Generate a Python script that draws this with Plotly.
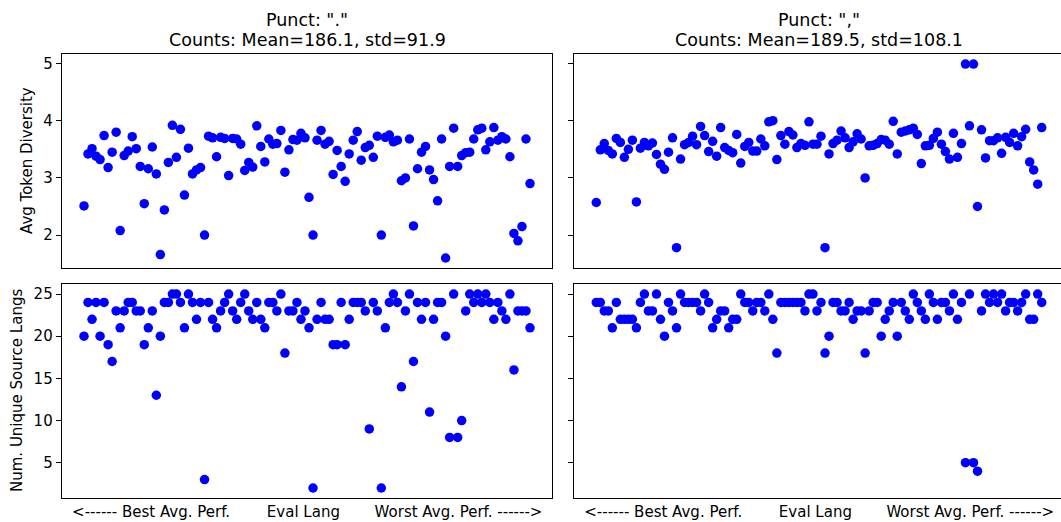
import plotly.graph_objects as go

# per eval-language values, ordered from best to worst average performance
div_period = [2.51, 3.42, 3.51, 3.38, 3.32, 3.74, 3.18, 3.45, 3.80, 2.08,
              3.39, 3.47, 3.72, 3.51, 3.20, 2.55, 3.16, 3.54, 3.07, 1.66,
              2.44, 3.27, 3.92, 3.36, 3.85, 2.70, 3.52, 3.07, 3.14, 3.18,
              2.00, 3.73, 3.70, 3.37, 3.71, 3.69, 3.04, 3.69, 3.68, 3.59,
              3.13, 3.27, 3.19, 3.91, 3.55, 3.28, 3.68, 3.59, 3.60, 3.83,
              3.10, 3.49, 3.67, 3.66, 3.78, 3.70, 2.66, 2.00, 3.66, 3.83,
              3.59, 3.64, 3.06, 3.48, 3.20, 2.94, 3.42, 3.66, 3.81, 3.31,
              3.53, 3.57, 3.36, 3.73, 2.00, 3.71, 3.75, 3.63, 3.66, 2.95,
              3.00, 3.68, 2.16, 3.16, 3.45, 3.55, 3.14, 2.97, 2.60, 3.68,
              1.60, 3.20, 3.87, 3.20, 3.39, 3.44, 3.45, 3.68, 3.84, 3.87,
              3.49, 3.63, 3.88, 3.66, 3.72, 3.68, 3.37, 2.03, 1.90, 2.15,
              3.68, 2.90]

div_comma = [2.57, 3.49, 3.60, 3.48, 3.42, 3.69, 3.62, 3.36, 3.50, 3.66,
             2.58, 3.52, 3.62, 3.56, 3.61, 3.41, 3.24, 3.15, 3.45, 3.70,
             1.78, 3.33, 3.58, 3.62, 3.73, 3.58, 3.90, 3.74, 3.46, 3.64,
             3.38, 3.88, 3.53, 3.48, 3.44, 3.76, 3.26, 3.55, 3.62, 3.47,
             3.47, 3.68, 3.56, 3.98, 4.00, 3.32, 3.74, 3.59, 3.81, 3.75,
             3.53, 3.60, 3.57, 3.98, 3.59, 3.59, 3.73, 1.78, 3.42, 3.60,
             3.66, 3.82, 3.70, 3.53, 3.63, 3.77, 3.68, 3.00, 3.56, 3.57,
             3.60, 3.67, 3.66, 3.59, 3.99, 3.42, 3.80, 3.82, 3.84, 3.87,
             3.76, 3.25, 3.56, 3.57, 3.69, 3.80, 3.59, 3.46, 3.33, 3.78,
             3.36, 3.60, 4.99, 3.91, 4.99, 2.50, 3.84, 3.35, 3.65, 3.65,
             3.70, 3.43, 3.71, 3.62, 3.78, 3.56, 3.72, 3.85, 3.28, 3.14,
             2.89, 3.88]

src_period = [20, 24, 22, 24, 20, 24, 19, 17, 23, 21,
              23, 24, 24, 23, 23, 19, 21, 23, 13, 20,
              24, 24, 25, 25, 24, 21, 25, 24, 22, 24,
              3, 24, 22, 21, 23, 24, 25, 23, 22, 24,
              25, 23, 22, 24, 22, 21, 24, 24, 23, 25,
              18, 23, 23, 24, 22, 23, 21, 2, 22, 24,
              22, 22, 19, 19, 24, 19, 22, 24, 24, 24,
              23, 9, 24, 23, 2, 21, 24, 25, 24, 14,
              23, 25, 17, 24, 22, 24, 11, 22, 24, 24,
              20, 8, 25, 8, 10, 23, 25, 24, 25, 24,
              25, 24, 22, 24, 23, 22, 25, 16, 23, 23,
              23, 21]

src_comma = [24, 24, 23, 23, 21, 24, 22, 22, 22, 22,
             21, 24, 25, 23, 23, 25, 22, 20, 24, 23,
             21, 25, 24, 24, 24, 24, 23, 25, 24, 21,
             22, 23, 23, 21, 22, 22, 25, 24, 24, 23,
             24, 24, 23, 25, 22, 18, 24, 24, 24, 24,
             24, 24, 23, 25, 25, 23, 24, 18, 20, 24,
             24, 23, 23, 24, 22, 23, 23, 18, 23, 24,
             24, 20, 22, 23, 24, 20, 24, 23, 22, 25,
             24, 23, 22, 25, 24, 22, 24, 24, 23, 25,
             22, 24, 5, 25, 5, 4, 23, 25, 24, 25,
             24, 25, 23, 24, 24, 23, 24, 25, 22, 22,
             25, 24]

titles = ['Punct: "."<br>Counts: Mean=186.1, std=91.9',
          'Punct: ","<br>Counts: Mean=189.5, std=108.1']
x_tick_text = ["<------ Best Avg. Perf.", "Eval Lang", "Worst Avg. Perf. ------>"]
x_tick_pos = [16.7, 54.6, 93.2]

W, H = 1061, 522
FONT = "DejaVu Sans"


def px(x):
    return x / W


def py(y):
    return (H - y) / H


n = len(div_period)
xs = list(range(n))
step = 4.013  # pixels per language
pad = 0.05 * (n - 1)

fig = go.Figure()
panels = [(div_period, "x", "y"), (div_comma, "x2", "y2"),
          (src_period, "x3", "y3"), (src_comma, "x4", "y4")]
for vals, xa, ya in panels:
    fig.add_trace(go.Scatter(x=xs, y=vals, mode="markers", xaxis=xa, yaxis=ya,
                             marker=dict(color="blue", size=9.5, line=dict(width=0)),
                             showlegend=False, hoverinfo="x+y"))

left_dom = [px(61.7), px(552.3)]
right_dom = [px(574), 1.0]
top_dom = [py(268), py(54)]
bot_dom = [py(498.3), py(284)]

left_range = [-pad, n - 1 + pad]
right_range = [-pad, -pad + (W - 574) / step]

axis_common = dict(showline=True, linecolor="black", linewidth=1,
                   showgrid=False, zeroline=False,
                   tickfont=dict(family=FONT, size=15, color="black"))

xa_top = dict(axis_common, mirror=True, ticks="", showticklabels=False)
xa_bot = dict(axis_common, mirror=True, ticks="", tickmode="array",
              tickvals=x_tick_pos, ticktext=x_tick_text)

ya_top = dict(axis_common, range=[1.425, 5.166], tickvals=[2, 3, 4, 5],
              ticks="outside", ticklen=5, tickcolor="black")
ya_bot = dict(axis_common, range=[0.78, 26.19], tickvals=[5, 10, 15, 20, 25],
              ticks="outside", ticklen=5, tickcolor="black")

fig.update_layout(
    width=W, height=H,
    margin=dict(l=0, r=0, t=0, b=0),
    plot_bgcolor="white", paper_bgcolor="white",
    font=dict(family=FONT, color="black"),
    xaxis=dict(xa_top, domain=left_dom, range=left_range, anchor="y"),
    yaxis=dict(ya_top, domain=top_dom, anchor="x", mirror=True),
    xaxis2=dict(xa_top, domain=right_dom, range=right_range, anchor="y2"),
    yaxis2=dict(ya_top, domain=top_dom, anchor="x2", showticklabels=False),
    xaxis3=dict(xa_bot, domain=left_dom, range=left_range, anchor="y3"),
    yaxis3=dict(ya_bot, domain=bot_dom, anchor="x3", mirror=True),
    xaxis4=dict(xa_bot, domain=right_dom, range=right_range, anchor="y4"),
    yaxis4=dict(ya_bot, domain=bot_dom, anchor="x4", showticklabels=False),
)

# subplot titles, two lines each
for cx, t in zip([307, 819], titles):
    for k, line in enumerate(t.split("<br>")):
        fig.add_annotation(x=px(cx), y=py(20 + 20 * k), xref="paper", yref="paper",
                           text=line, showarrow=False, xanchor="center", yanchor="middle",
                           font=dict(family=FONT, size=17.5, color="black"))

# y axis labels
fig.add_annotation(x=px(27), y=py(161), xref="paper", yref="paper",
                   text="Avg Token Diversity", textangle=-90, showarrow=False,
                   xanchor="center", yanchor="middle",
                   font=dict(family=FONT, size=15, color="black"))
fig.add_annotation(x=px(17), y=py(391), xref="paper", yref="paper",
                   text="Num. Unique Source Langs", textangle=-90, showarrow=False,
                   xanchor="center", yanchor="middle",
                   font=dict(family=FONT, size=15, color="black"))

# drop the default page margin so the figure sits at the window's corner
fig.write_html("out.html", config={"displayModeBar": False},
               post_script="document.body.style.margin='0';")
